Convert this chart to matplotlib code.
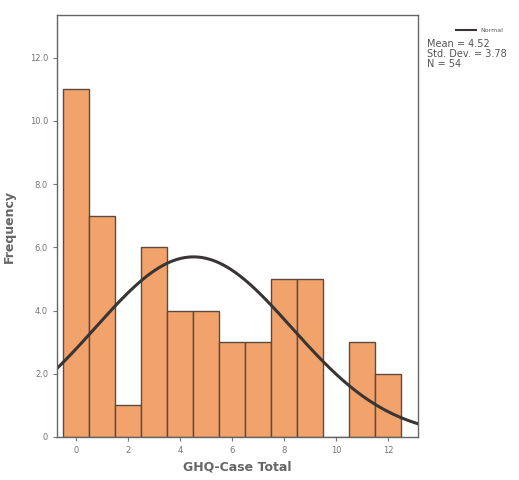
import numpy as np
import matplotlib
matplotlib.use("Agg")
import matplotlib.pyplot as plt

scores = [0, 1, 2, 3, 4, 5, 6, 7, 8, 9, 10, 11, 12]
counts = [11, 7, 1, 6, 4, 4, 3, 3, 5, 5, 0, 3, 2]
mean = 4.52
std = 3.78
n = 54

fig = plt.figure(figsize=(5.19, 4.8), dpi=100)
ax = fig.add_axes([0.110, 0.0896, 0.695, 0.879])

ax.bar(scores, counts, width=1.0, color="#f2a36b", edgecolor="#5a4a40", linewidth=1.0)

xs = np.linspace(-0.73, 13.15, 300)
ys = n * 1.0 / (std * np.sqrt(2 * np.pi)) * np.exp(-0.5 * ((xs - mean) / std) ** 2)
ax.plot(xs, ys, color="#3a3535", linewidth=2.2)

ax.set_xlim(-0.73, 13.15)
ax.set_ylim(0, 13.35)
ax.set_xticks([0, 2, 4, 6, 8, 10, 12])
ax.set_yticks([0, 2, 4, 6, 8, 10, 12])
ax.set_yticklabels(["0", "2.0", "4.0", "6.0", "8.0", "10.0", "12.0"])
ax.tick_params(labelsize=6, colors="#777777", length=3)
for s in ax.spines.values():
    s.set_color("#666666")
    s.set_linewidth(1.0)

ax.set_xlabel("GHQ-Case Total", fontsize=9, fontweight="bold", color="#666666", labelpad=4)
ax.set_ylabel("Frequency", fontsize=9, fontweight="bold", color="#666666", labelpad=10)

fig.lines.append(plt.Line2D([0.878, 0.918], [0.937, 0.937], transform=fig.transFigure,
                            color="#3a3535", linewidth=1.5))
fig.text(0.925, 0.937, "Normal", fontsize=4.5, color="#555555", va="center")
fig.text(0.823, 0.918, "Mean = 4.52\nStd. Dev. = 3.78\nN = 54", fontsize=7,
         color="#555555", va="top", linespacing=0.95)

fig.savefig("out.png", dpi=100)
